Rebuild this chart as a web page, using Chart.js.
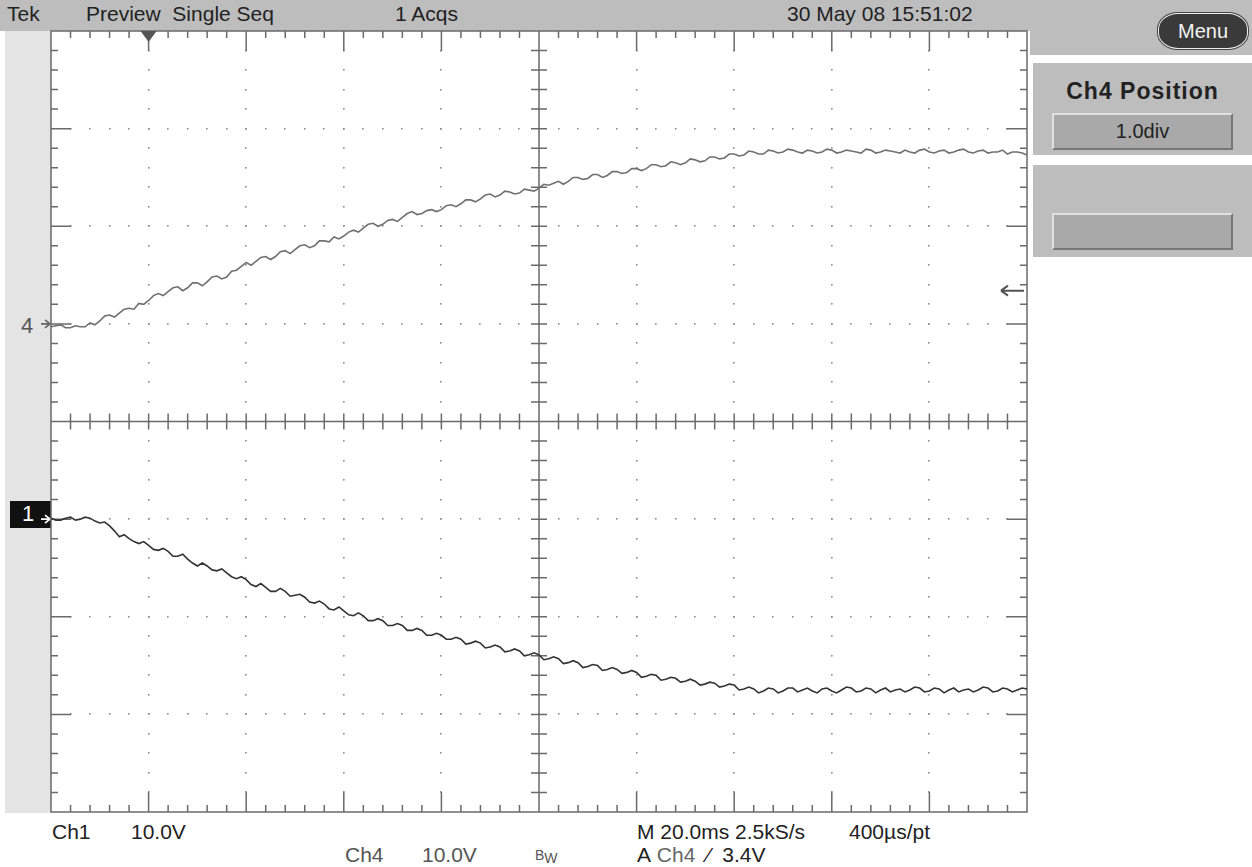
<!DOCTYPE html>
<html>
<head>
<meta charset="utf-8">
<script src="https://cdn.jsdelivr.net/npm/chart.js@4"></script>
<style>
    body { margin: 0; width: 1252px; height: 867px; background: #fff; position: relative; overflow: hidden;
           font-family: "Liberation Sans", Arial, sans-serif; color: #222; }
    .abs { position: absolute; }
    #topbar { left: 0; top: 0; width: 1030px; height: 31px; background: #bdbdbd; }
    #leftstrip { left: 5px; top: 31px; width: 46px; height: 782px; background: #e4e4e4; }
    #menuArea { left: 1030px; top: 0; width: 222px; height: 55px; background: #bdbdbd; }
    #menuBtn { left: 1158px; top: 13px; width: 88px; height: 34px; border-radius: 20px / 16px; background: #3a3a3a;
               border: 1px solid #eee; box-shadow: 0 0 0 1px #444; color: #f4f4f4; font-size: 20px;
               text-align: center; line-height: 34px; }
    .panel { left: 1033px; width: 219px; background: #bdbdbd; }
    .btn { left: 1052px; width: 177px; height: 33px; background: #a9a9a9; border-top: 2px solid #e0e0e0;
           border-left: 2px solid #e0e0e0; border-bottom: 2px solid #777; border-right: 2px solid #777;
           text-align: center; line-height: 33px; font-size: 20px; }
    .txt { font-size: 21px; white-space: nowrap; line-height: 22px; }
    #chartBox { left: 41px; top: 21px; width: 996px; height: 801px; }
</style>
</head>
<body>
<div id="topbar" class="abs"></div>
<div id="leftstrip" class="abs"></div>
<div id="menuArea" class="abs"></div>
<div id="menuBtn" class="abs">Menu</div>
<div class="abs panel" style="top:63px;height:92px;"></div>
<div class="abs txt" style="left:1033px;top:79px;width:219px;font-weight:bold;font-size:23px;letter-spacing:1px;text-align:center;line-height:24px;">Ch4 Position</div>
<div class="abs btn" style="top:113px;">1.0div</div>
<div class="abs panel" style="top:165px;height:92px;"></div>
<div class="abs btn" style="top:213px;"></div>

<div class="abs txt" style="left:7px;top:3px;">Tek</div>
<div class="abs txt" style="left:86px;top:3px;">Preview&nbsp;&nbsp;Single Seq</div>
<div class="abs txt" style="left:395px;top:3px;">1 Acqs</div>
<div class="abs txt" style="left:787px;top:3px;">30 May 08 15:51:02</div>

<div class="abs txt" style="left:21px;top:315px;color:#555;font-size:22px;">4</div>
<div class="abs" style="left:10px;top:501px;width:41px;height:27px;background:#111;"></div>
<div class="abs txt" style="left:22px;top:503px;color:#fff;font-size:22px;">1</div>

<div class="abs txt" style="left:52px;top:821px;">Ch1</div>
<div class="abs txt" style="left:131px;top:821px;">10.0V</div>
<div class="abs txt" style="left:345px;top:844px;color:#555;">Ch4</div>
<div class="abs txt" style="left:422px;top:844px;color:#555;">10.0V</div>
<div class="abs txt" style="left:535px;top:844px;font-size:14px;color:#555;">B<sub style="font-size:14px;vertical-align:-3px;">W</sub></div>
<div class="abs txt" style="left:637px;top:821px;">M 20.0ms 2.5kS/s</div>
<div class="abs txt" style="left:849px;top:821px;">400µs/pt</div>
<div class="abs txt" style="left:637px;top:844px;">A&nbsp;<span style="color:#666;">Ch4</span>&nbsp;&nbsp;⁄&nbsp;&nbsp;3.4V</div>

<div id="chartBox" class="abs"><canvas id="scope"></canvas></div>

<script>
// time axis (ms), trigger at 0, 20 ms/div
const timeMs = [-20, -19, -18, -17, -16, -15, -14, -13, -12, -11, -10, -9, -8, -7, -6, -5, -4, -3, -2, -1,
    0, 1, 2, 3, 4, 5, 6, 7, 8, 9, 10, 11, 12, 13, 14, 15, 16, 17, 18, 19,
    20, 21, 22, 23, 24, 25, 26, 27, 28, 29, 30, 31, 32, 33, 34, 35, 36, 37, 38, 39,
    40, 41, 42, 43, 44, 45, 46, 47, 48, 49, 50, 51, 52, 53, 54, 55, 56, 57, 58, 59,
    60, 61, 62, 63, 64, 65, 66, 67, 68, 69, 70, 71, 72, 73, 74, 75, 76, 77, 78, 79,
    80, 81, 82, 83, 84, 85, 86, 87, 88, 89, 90, 91, 92, 93, 94, 95, 96, 97, 98, 99,
    100, 101, 102, 103, 104, 105, 106, 107, 108, 109, 110, 111, 112, 113, 114, 115, 116, 117, 118, 119,
    120, 121, 122, 123, 124, 125, 126, 127, 128, 129, 130, 131, 132, 133, 134, 135, 136, 137, 138, 139,
    140, 141, 142, 143, 144, 145, 146, 147, 148, 149, 150, 151, 152, 153, 154, 155, 156, 157, 158, 159,
    160, 161, 162, 163, 164, 165, 166, 167, 168, 169, 170, 171, 172, 173, 174, 175, 176, 177, 178, 179, 180];

// Ch4 in volts (10 V/div, position +1.0 div)
const ch4Volts = [-0.3, -0.2, -0.1, -0.4, -0.4, -0.2, -0.3, -0.3, 0.1, -0.1, 0.3, 0.8, 0.9, 0.7, 1.1, 1.5, 1.6, 1.5, 2.1, 2.0,
    2.4, 2.9, 3.1, 2.9, 3.3, 3.7, 3.8, 3.4, 3.7, 4.2, 4.2, 3.9, 4.3, 4.8, 4.9, 4.6, 4.8, 5.4, 5.5, 5.9,
    6.3, 6.0, 6.4, 6.8, 6.9, 6.6, 6.9, 7.4, 7.5, 7.2, 7.6, 8.0, 8.1, 7.8, 8.0, 8.5, 8.5, 8.4, 8.9, 8.7,
    9.0, 9.4, 9.6, 9.4, 9.8, 10.2, 10.3, 10.0, 10.2, 10.6, 10.7, 10.5, 10.9, 11.3, 11.5, 11.2, 11.3, 11.6, 11.7, 11.5,
    11.7, 12.1, 12.2, 12.0, 12.3, 12.7, 12.7, 12.5, 12.8, 13.2, 13.3, 13.0, 13.2, 13.6, 13.5, 13.3, 13.4, 13.8, 13.7, 13.6,
    13.9, 14.3, 14.2, 14.4, 14.6, 14.3, 14.6, 15.0, 15.0, 14.8, 14.9, 15.3, 15.3, 15.0, 15.2, 15.6, 15.6, 15.4, 15.5, 15.9,
    15.9, 15.7, 15.9, 16.3, 16.3, 16.1, 16.2, 16.6, 16.5, 16.3, 16.5, 16.9, 16.8, 16.6, 16.7, 17.1, 17.1, 16.9, 17.0, 17.4,
    17.4, 17.2, 17.3, 17.7, 17.6, 17.4, 17.4, 17.8, 17.7, 17.5, 17.6, 17.9, 17.8, 17.6, 17.5, 17.8, 17.7, 17.5, 17.6, 17.9,
    17.8, 17.5, 17.6, 17.8, 17.7, 17.6, 17.5, 17.9, 17.8, 17.5, 17.6, 17.8, 17.7, 17.6, 17.5, 17.8, 17.6, 17.5, 17.8, 17.9,
    17.6, 17.5, 17.7, 17.8, 17.5, 17.6, 17.8, 17.9, 17.6, 17.5, 17.7, 17.8, 17.5, 17.6, 17.6, 17.8, 17.4, 17.6, 17.6, 17.5, 17.3];

// Ch1 in volts (10 V/div, position -1.0 div)
const ch1Volts = [0.1, -0.1, -0.1, 0.1, 0.2, -0.1, 0.0, 0.2, 0.1, -0.2, -0.4, -0.3, -0.7, -1.2, -1.8, -1.6, -2.0, -2.3, -2.5, -2.3,
    -2.7, -3.1, -3.2, -3.0, -3.3, -3.8, -3.8, -3.6, -4.1, -4.5, -4.8, -4.5, -4.8, -5.2, -5.3, -5.1, -5.5, -5.9, -6.1, -5.9,
    -6.2, -6.7, -6.9, -6.6, -7.0, -7.4, -7.4, -7.1, -7.4, -7.9, -7.8, -7.7, -8.0, -8.5, -8.6, -8.4, -8.7, -9.2, -9.3, -9.0,
    -9.4, -9.8, -9.9, -9.6, -9.9, -10.4, -10.4, -10.2, -10.4, -10.9, -10.9, -10.7, -10.9, -11.4, -11.4, -11.2, -11.4, -11.9, -11.9, -11.7,
    -11.9, -12.3, -12.3, -12.1, -12.3, -12.8, -12.7, -12.5, -12.7, -13.2, -13.1, -12.9, -13.1, -13.6, -13.5, -13.3, -13.5, -14.0, -13.9, -13.7,
    -13.9, -14.4, -14.3, -14.1, -14.3, -14.8, -14.7, -14.5, -14.7, -15.2, -15.1, -14.9, -15.0, -15.5, -15.4, -15.2, -15.4, -15.8, -15.7, -15.5,
    -15.7, -16.2, -16.1, -15.9, -16.0, -16.5, -16.4, -16.2, -16.3, -16.7, -16.6, -16.4, -16.6, -17.0, -16.9, -16.7, -16.8, -17.2, -17.1, -16.9,
    -17.0, -17.5, -17.4, -17.2, -17.4, -17.8, -17.6, -17.3, -17.4, -17.8, -17.6, -17.3, -17.3, -17.7, -17.5, -17.3, -17.6, -17.8, -17.4, -17.3,
    -17.6, -17.8, -17.5, -17.2, -17.3, -17.7, -17.6, -17.3, -17.4, -17.8, -17.5, -17.3, -17.7, -17.5, -17.4, -17.7, -17.5, -17.2, -17.3, -17.7,
    -17.6, -17.3, -17.4, -17.8, -17.5, -17.3, -17.7, -17.5, -17.4, -17.7, -17.5, -17.2, -17.3, -17.7, -17.6, -17.3, -17.4, -17.7, -17.5, -17.3, -17.4];

const voltsPerDiv = 10;
const ch4Position = 1.0;
const ch1Position = -1.0;
const triggerLevel = 3.4;

function toDivs(volts, pos) {
    return volts.map((v, i) => ({ x: timeMs[i], y: v / voltsPerDiv + pos }));
}

// Graticule drawn with the scales: dotted grid, border ticks, centre cross, markers
const graticule = {
    id: "graticule",
    beforeDatasetsDraw(chart) {
        const ctx = chart.ctx;
        const xs = chart.scales.x, ys = chart.scales.y;
        const px = (d) => xs.getPixelForValue(-20 + d * 20);   // d in divisions 0..10
        const py = (d) => ys.getPixelForValue(d);               // d in divisions -4..4
        const L = px(0), R = px(10), T = py(4), B = py(-4);
        ctx.save();

        // dotted grid lines
        ctx.fillStyle = "#8c8c8c";
        for (let i = 1; i < 10; i++) {
            if (i === 5) continue;
            for (let k = 1; k < 40; k++) ctx.fillRect(Math.round(px(i)) - 1, Math.round(py(4 - k * 0.2)) - 1, 1.6, 1.6);
        }
        for (let j = -3; j <= 3; j++) {
            if (j === 0) continue;
            for (let k = 1; k < 50; k++) ctx.fillRect(Math.round(px(k * 0.2)) - 1, Math.round(py(j)) - 1, 1.6, 1.6);
        }

        ctx.strokeStyle = "#6a6a6a";
        ctx.lineWidth = 1.5;
        ctx.strokeRect(L, T, R - L, B - T);

        ctx.beginPath();
        // top / bottom border ticks
        for (let k = 1; k < 50; k++) {
            const x = px(k * 0.2);
            const len = k % 5 === 0 ? 20 : 7;
            ctx.moveTo(x, T); ctx.lineTo(x, T + len);
            ctx.moveTo(x, B); ctx.lineTo(x, B - len);
        }
        // left / right border ticks
        for (let k = 1; k < 40; k++) {
            const y = py(4 - k * 0.2);
            const len = k % 5 === 0 ? 20 : 7;
            ctx.moveTo(L, y); ctx.lineTo(L + len, y);
            ctx.moveTo(R, y); ctx.lineTo(R - len, y);
        }
        // centre cross
        const cx = px(5), cy = py(0);
        ctx.moveTo(L, cy); ctx.lineTo(R, cy);
        ctx.moveTo(cx, T); ctx.lineTo(cx, B);
        for (let k = 1; k < 50; k++) {
            const x = px(k * 0.2);
            ctx.moveTo(x, cy - 8); ctx.lineTo(x, cy + 8);
        }
        for (let k = 1; k < 40; k++) {
            const y = py(4 - k * 0.2);
            ctx.moveTo(cx - 8, y); ctx.lineTo(cx + 8, y);
        }
        ctx.stroke();

        // trigger position marker
        const tx = xs.getPixelForValue(0);
        ctx.fillStyle = "#555";
        ctx.beginPath();
        ctx.moveTo(tx - 8, T); ctx.lineTo(tx + 8, T); ctx.lineTo(tx, T + 11); ctx.closePath();
        ctx.fill();

        // trigger level arrow at right
        const ty = py(triggerLevel / voltsPerDiv + ch4Position);
        ctx.strokeStyle = "#555";
        ctx.lineWidth = 2;
        ctx.beginPath();
        ctx.moveTo(R - 3, ty); ctx.lineTo(R - 26, ty);
        ctx.moveTo(R - 26, ty); ctx.lineTo(R - 19, ty - 5);
        ctx.moveTo(R - 26, ty); ctx.lineTo(R - 19, ty + 5);
        ctx.stroke();

        // channel ground arrows on the left
        const arrows = [[py(ch4Position), "#666"], [py(ch1Position), "#fff"]];
        ctx.lineWidth = 1.8;
        arrows.forEach(([y, col]) => {
            ctx.strokeStyle = col;
            ctx.beginPath();
            ctx.moveTo(L - 14, y); ctx.lineTo(L - 1, y);
            ctx.moveTo(L - 1, y); ctx.lineTo(L - 6, y - 4);
            ctx.moveTo(L - 1, y); ctx.lineTo(L - 6, y + 4);
            ctx.stroke();
        });
        ctx.restore();
    }
};

new Chart(document.getElementById("scope").getContext("2d"), {
    type: "line",
    data: {
        datasets: [
            { label: "Ch4", data: toDivs(ch4Volts, ch4Position), borderColor: "#707070", borderWidth: 1.6, pointRadius: 0, tension: 0 },
            { label: "Ch1", data: toDivs(ch1Volts, ch1Position), borderColor: "#333", borderWidth: 1.6, pointRadius: 0, tension: 0 }
        ]
    },
    options: {
        responsive: true,
        maintainAspectRatio: false,
        animation: false,
        layout: { padding: 10 },
        clip: false,
        scales: {
            x: { type: "linear", min: -20, max: 180, display: false },
            y: { type: "linear", min: -4, max: 4, display: false }
        },
        plugins: { legend: { display: false }, tooltip: { enabled: false } }
    },
    plugins: [graticule]
});
</script>
</body>
</html>
